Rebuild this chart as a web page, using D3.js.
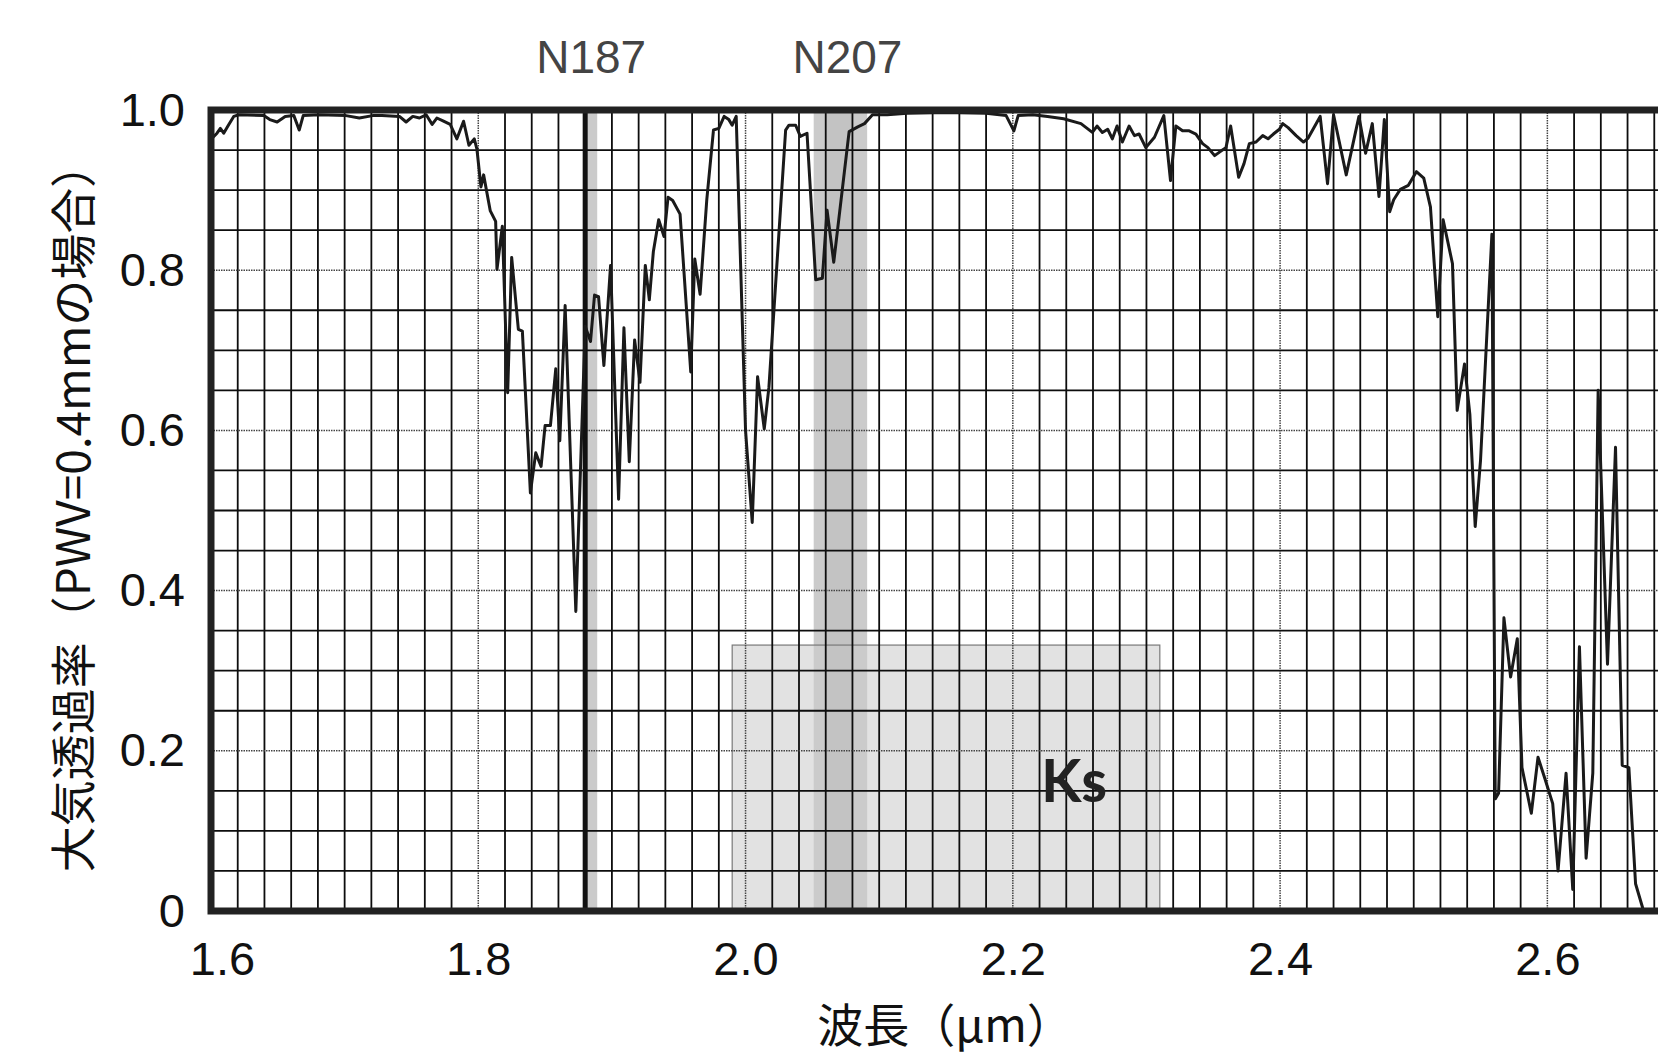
<!DOCTYPE html>
<html>
<head>
<meta charset="utf-8">
<script src="https://cdn.jsdelivr.net/npm/d3@7"></script>
<style>
  body { margin: 0; background: #fff; }
  text { font-family: "Liberation Sans", Arial, sans-serif; }
</style>
</head>
<body>
<div id="chart"></div>
<script>
// atmospheric transmission (wavelength in um)
var wavelength = [
  1.601, 1.6045, 1.607, 1.6095, 1.613, 1.617, 1.621, 1.6395, 1.644, 1.6495,
  1.6555, 1.662, 1.666, 1.669, 1.681, 1.701, 1.711, 1.721, 1.728, 1.741,
  1.746, 1.751, 1.756, 1.761, 1.7655, 1.769, 1.774, 1.779, 1.784, 1.789,
  1.793, 1.797, 1.799, 1.802, 1.804, 1.809, 1.813, 1.814, 1.818, 1.822,
  1.825, 1.830, 1.833, 1.839, 1.843, 1.847, 1.850, 1.854, 1.858, 1.861,
  1.865, 1.873, 1.880, 1.884, 1.887, 1.890, 1.894, 1.899, 1.905, 1.909,
  1.913, 1.917, 1.921, 1.925, 1.928, 1.931, 1.935, 1.939, 1.942, 1.9455,
  1.951, 1.959, 1.962, 1.966, 1.971, 1.976, 1.980, 1.984, 1.9875, 1.990,
  1.993, 2.000, 2.005, 2.009, 2.014, 2.0175, 2.030, 2.0325, 2.0375, 2.041,
  2.046, 2.0525, 2.0575, 2.061, 2.066, 2.0775, 2.084, 2.089, 2.095, 2.106,
  2.121, 2.150, 2.180, 2.195, 2.2008, 2.204, 2.215, 2.226, 2.238, 2.251,
  2.2595, 2.263, 2.267, 2.271, 2.2745, 2.278, 2.282, 2.287, 2.291, 2.2945,
  2.2995, 2.306, 2.313, 2.318, 2.322, 2.327, 2.332, 2.337, 2.342, 2.346,
  2.351, 2.356, 2.3595, 2.363, 2.369, 2.373, 2.377, 2.382, 2.387, 2.391,
  2.395, 2.3995, 2.402, 2.406, 2.412, 2.4175, 2.421, 2.430, 2.4355, 2.440,
  2.4495, 2.459, 2.464, 2.469, 2.474, 2.478, 2.482, 2.485, 2.490, 2.496,
  2.502, 2.5075, 2.5125, 2.518, 2.522, 2.529, 2.5325, 2.538, 2.542, 2.546,
  2.550, 2.5585, 2.561, 2.5635, 2.5675, 2.5725, 2.5775, 2.581, 2.588, 2.593,
  2.598, 2.604, 2.608, 2.614, 2.619, 2.624, 2.629, 2.634, 2.638, 2.645,
  2.651, 2.656, 2.661, 2.666, 2.672
];
var transmission = [
  0.965, 0.971, 0.977, 0.971, 0.981, 0.992, 0.994, 0.993, 0.988, 0.985,
  0.992, 0.993, 0.975, 0.993, 0.994, 0.993, 0.990, 0.993, 0.993, 0.992,
  0.985, 0.992, 0.990, 0.994, 0.982, 0.990, 0.986, 0.982, 0.964, 0.986,
  0.956, 0.964, 0.951, 0.904, 0.919, 0.874, 0.861, 0.801, 0.855, 0.647,
  0.816, 0.726, 0.724, 0.522, 0.572, 0.555, 0.606, 0.606, 0.677, 0.587,
  0.756, 0.374, 0.730, 0.711, 0.769, 0.767, 0.681, 0.806, 0.514, 0.728,
  0.561, 0.713, 0.660, 0.806, 0.763, 0.823, 0.863, 0.842, 0.891, 0.887,
  0.870, 0.673, 0.814, 0.770, 0.888, 0.975, 0.977, 0.992, 0.988, 0.981,
  0.992, 0.600, 0.485, 0.667, 0.602, 0.654, 0.975, 0.981, 0.981, 0.967,
  0.971, 0.788, 0.790, 0.875, 0.810, 0.973, 0.979, 0.983, 0.994, 0.994,
  0.996, 0.997, 0.996, 0.993, 0.974, 0.993, 0.994, 0.992, 0.989, 0.983,
  0.972, 0.980, 0.972, 0.976, 0.964, 0.980, 0.960, 0.980, 0.968, 0.970,
  0.953, 0.966, 0.993, 0.912, 0.980, 0.974, 0.974, 0.970, 0.958, 0.953,
  0.943, 0.949, 0.953, 0.980, 0.916, 0.933, 0.958, 0.960, 0.968, 0.964,
  0.970, 0.976, 0.983, 0.978, 0.968, 0.960, 0.965, 0.992, 0.908, 0.994,
  0.919, 0.992, 0.946, 0.983, 0.892, 0.988, 0.873, 0.888, 0.901, 0.906,
  0.923, 0.915, 0.879, 0.742, 0.863, 0.808, 0.625, 0.683, 0.620, 0.480,
  0.563, 0.845, 0.140, 0.147, 0.366, 0.292, 0.340, 0.179, 0.122, 0.192,
  0.166, 0.134, 0.050, 0.172, 0.027, 0.330, 0.066, 0.172, 0.650, 0.308,
  0.579, 0.182, 0.179, 0.034, 0.000
];

var xTicks = [1.6, 1.8, 2.0, 2.2, 2.4, 2.6];
var yTicks = [0, 0.2, 0.4, 0.6, 0.8, 1.0];
var yTickLabels = ["0", "0.2", "0.4", "0.6", "0.8", "1.0"];

// narrow band filters and Ks band
var filterNames = ["N187", "N207"];
var filterLo = [1.880, 2.051];
var filterHi = [1.889, 2.091];
var n207Core = [2.060, 2.080];
var ksRange = [1.99, 2.31];
var ksTop = 0.332;

var margin = {top: 110, left: 211},
    width = 1470,
    height = 801;

var svg = d3.select("#chart")
  .append("svg")
    .attr("width", 1658)
    .attr("height", 1063)
    .style("display", "block")
    .style("background", "#fff");

var g = svg.append("g")
    .attr("transform", "translate(" + margin.left + "," + margin.top + ")");

var xScale = d3.scaleLinear()
    .domain([1.6, 2.7])
    .range([0, width]);

var yScale = d3.scaleLinear()
    .domain([0, 1])
    .range([height, 0]);

// Ks box
g.append("rect")
    .attr("x", xScale(ksRange[0]))
    .attr("y", yScale(ksTop))
    .attr("width", xScale(ksRange[1]) - xScale(ksRange[0]))
    .attr("height", yScale(0) - yScale(ksTop))
    .style("fill", "#e2e2e2");

// filter bands
g.selectAll(".band")
    .data(filterNames)
    .enter()
    .append("rect")
    .attr("class", "band")
    .attr("x", (d, i) => xScale(filterLo[i]))
    .attr("y", 0)
    .attr("width", (d, i) => xScale(filterHi[i]) - xScale(filterLo[i]))
    .attr("height", height)
    .style("fill", "#cbcbcb");

g.append("rect")
    .attr("x", xScale(n207Core[0]))
    .attr("y", 0)
    .attr("width", xScale(n207Core[1]) - xScale(n207Core[0]))
    .attr("height", height)
    .style("fill", "#c3c3c3");

// Ks outline over the bands
g.append("rect")
    .attr("x", xScale(ksRange[0]))
    .attr("y", yScale(ksTop))
    .attr("width", xScale(ksRange[1]) - xScale(ksRange[0]))
    .attr("height", yScale(0) - yScale(ksTop))
    .style("fill", "none")
    .style("stroke", "#7a7a7a")
    .style("stroke-width", 1.2);

// grid, 0.02 um and 0.05 steps; the major ones are dotted
var xGrid = d3.range(81, 136).map(i => i / 50);
var yGrid = d3.range(1, 20).map(i => i / 20);
var isMajor = d => Math.abs(d * 5 - Math.round(d * 5)) < 1e-6;

g.selectAll(".vgrid")
    .data(xGrid)
    .enter()
    .append("line")
    .attr("x1", d => xScale(d))
    .attr("x2", d => xScale(d))
    .attr("y1", 0)
    .attr("y2", height)
    .style("stroke", d => isMajor(d) ? "#444" : "#0d0d0d")
    .style("stroke-width", d => isMajor(d) ? 1.5 : 1.8)
    .style("stroke-dasharray", d => isMajor(d) ? "1.5,1" : null);

g.selectAll(".hgrid")
    .data(yGrid)
    .enter()
    .append("line")
    .attr("x1", 0)
    .attr("x2", width)
    .attr("y1", d => yScale(d))
    .attr("y2", d => yScale(d))
    .style("stroke", d => isMajor(d) ? "#444" : "#0d0d0d")
    .style("stroke-width", d => isMajor(d) ? 1.5 : 1.8)
    .style("stroke-dasharray", d => isMajor(d) ? "1.5,1" : null);

// N187 edge line
g.append("line")
    .attr("x1", xScale(filterLo[0]))
    .attr("x2", xScale(filterLo[0]))
    .attr("y1", 0)
    .attr("y2", height)
    .style("stroke", "#111")
    .style("stroke-width", 5);

// spectrum
var line = d3.line()
    .x((d, i) => xScale(wavelength[i]))
    .y(d => yScale(d));

g.append("path")
    .datum(transmission)
    .attr("d", line)
    .style("fill", "none")
    .style("stroke", "#1a1a1a")
    .style("stroke-width", 3)
    .style("stroke-linejoin", "round");

// frame (right side runs off the picture)
g.append("path")
    .attr("d", "M" + (width + 20) + ",0H0V" + height + "H" + (width + 20))
    .style("fill", "none")
    .style("stroke", "#222")
    .style("stroke-width", 7);

// axes
var xAxis = g.append("g")
    .attr("transform", "translate(0," + height + ")")
    .call(d3.axisBottom(xScale).tickValues(xTicks).tickFormat(d3.format(".1f")).tickSize(0).tickPadding(31));
xAxis.select(".domain").remove();
xAxis.selectAll("text")
    .attr("dx", (d, i) => i == 0 ? 11 : 0)
    .style("font-family", "'Liberation Sans', Arial, sans-serif")
    .style("font-size", "47px")
    .style("fill", "#111");

var yAxis = g.append("g")
    .call(d3.axisLeft(yScale).tickValues(yTicks).tickFormat((d, i) => yTickLabels[i]).tickSize(0).tickPadding(26));
yAxis.select(".domain").remove();
yAxis.selectAll("text")
    .style("font-family", "'Liberation Sans', Arial, sans-serif")
    .style("font-size", "47px")
    .style("fill", "#111");

// filter names
g.selectAll(".fname")
    .data(filterNames)
    .enter()
    .append("text")
    .attr("x", (d, i) => xScale((filterLo[i] + filterHi[i]) / 2) + (i == 1 ? 7 : 0))
    .attr("y", -37)
    .attr("text-anchor", "middle")
    .style("font-size", "46px")
    .style("fill", "#444")
    .text(d => d);

g.append("text")
    .attr("x", 830)
    .attr("y", 692)
    .style("font-family", "Lato, 'Open Sans', sans-serif")
    .style("font-weight", "bold")
    .style("font-size", "59px")
    .style("fill", "#222")
    .text("Ks");

// axis titles
svg.append("text")
    .attr("transform", "translate(90,507) rotate(-90)")
    .attr("text-anchor", "middle")
    .style("font-family", "'Noto Sans CJK JP', sans-serif")
    .style("font-size", "46px")
    .style("fill", "#111")
    .text("大気透過率（PWV=0.4mmの場合）");

svg.append("text")
    .attr("x", 945)
    .attr("y", 1042)
    .attr("text-anchor", "middle")
    .style("font-family", "'Noto Sans CJK JP', sans-serif")
    .style("font-size", "46px")
    .style("fill", "#111")
    .text("波長（μm）");
</script>
</body>
</html>
